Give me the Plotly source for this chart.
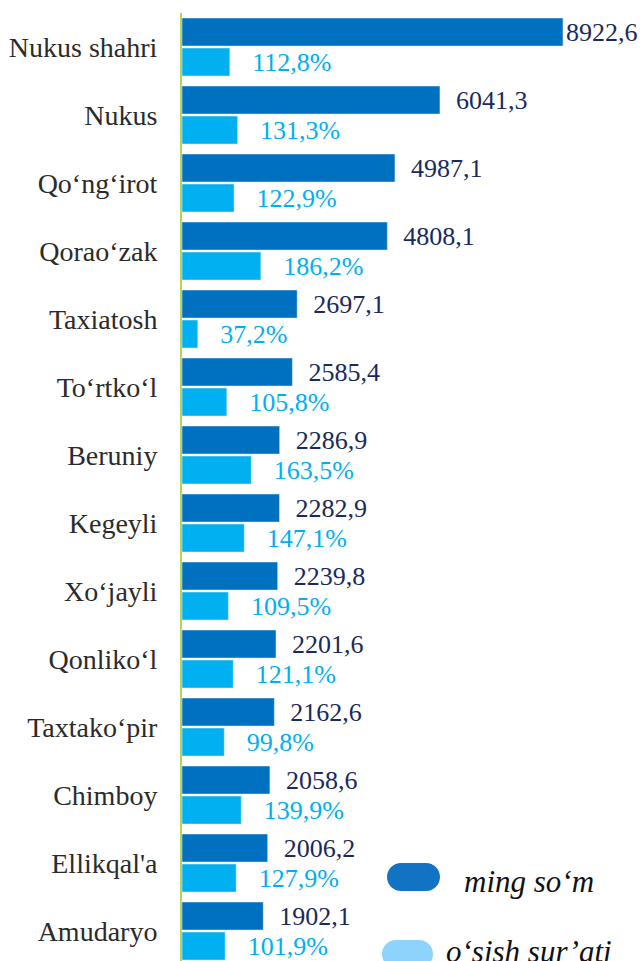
import plotly.graph_objects as go

categories = ["Nukus shahri", "Nukus", "Qo‘ng‘irot", "Qorao‘zak", "Taxiatosh", "To‘rtko‘l",
              "Beruniy", "Kegeyli", "Xo‘jayli", "Qonliko‘l", "Taxtako‘pir", "Chimboy",
              "Ellikqal'a", "Amudaryo"]
values = [8922.6, 6041.3, 4987.1, 4808.1, 2697.1, 2585.4, 2286.9, 2282.9, 2239.8,
          2201.6, 2162.6, 2058.6, 2006.2, 1902.1]
growth = [112.8, 131.3, 122.9, 186.2, 37.2, 105.8, 163.5, 147.1, 109.5, 121.1, 99.8,
          139.9, 127.9, 101.9]
legend_names = ["ming so‘m", "o‘sish sur’ati"]

W, H = 644, 961
L, T = 182, 13
PW, PH = W - L, H - T


def fmt(v):
    return f"{v:.1f}".replace(".", ",")


val_text = [("" if v > 8000 else "  ") + fmt(v) for v in values]
gr_text = ["   " + fmt(g) + "%" for g in growth]

FONT = "Liberation Serif"
DARK = "#0070c0"
LIGHT = "#00b0f0"

fig = go.Figure()
fig.add_trace(go.Bar(
    y=categories, x=values, orientation="h", name=legend_names[0],
    marker=dict(color=DARK), width=0.412, offset=-0.426,
    text=val_text, textposition="outside", cliponaxis=False, constraintext="none",
    textfont=dict(family=FONT, size=26, color="#1a2a5c"),
    xaxis="x", yaxis="y", showlegend=False,
))
fig.add_trace(go.Bar(
    y=categories, x=growth, orientation="h", name=legend_names[1],
    marker=dict(color=LIGHT), width=0.412, offset=0.015,
    text=gr_text, textposition="outside", cliponaxis=False, constraintext="none",
    textfont=dict(family=FONT, size=26, color=LIGHT),
    xaxis="x2", yaxis="y", showlegend=False,
))


def px(xp):
    return (xp - L) / PW


def py(yp):
    return (H - yp) / PH


def pill(x0, x1, y0, y1, color):
    r = (y1 - y0) / 2
    k = 0.5523 * r
    pts = [
        ("M", [(x0 + r, y0)]),
        ("L", [(x1 - r, y0)]),
        ("C", [(x1 - r + k, y0), (x1, y0 + r - k), (x1, y0 + r)]),
        ("C", [(x1, y0 + r + k), (x1 - r + k, y1), (x1 - r, y1)]),
        ("L", [(x0 + r, y1)]),
        ("C", [(x0 + r - k, y1), (x0, y0 + r + k), (x0, y0 + r)]),
        ("C", [(x0, y0 + r - k), (x0 + r - k, y0), (x0 + r, y0)]),
    ]
    path = ""
    for cmd, ps in pts:
        path += cmd + " " + " ".join(f"{px(a):.5f},{py(b):.5f}" for a, b in ps) + " "
    path += "Z"
    return dict(type="path", xref="paper", yref="paper", path=path,
                fillcolor=color, line=dict(width=0), layer="above")


shapes = [
    pill(387, 440, 863, 891, "#1273c4"),
    pill(382, 433, 940, 968, "#8dd3fb"),
]
annotations = [
    dict(x=px(462), y=py(881), xref="paper", yref="paper", text=legend_names[0],
         showarrow=False, xanchor="left", yanchor="middle",
         font=dict(family=FONT, size=31, color="#111111", style="italic")),
    dict(x=px(444), y=py(951), xref="paper", yref="paper", text=legend_names[1],
         showarrow=False, xanchor="left", yanchor="middle",
         font=dict(family=FONT, size=31, color="#111111", style="italic")),
]

fig.update_layout(
    width=W, height=H,
    margin=dict(l=L, r=0, t=T, b=0, pad=0),
    paper_bgcolor="white", plot_bgcolor="white",
    barmode="overlay",
    xaxis=dict(range=[0, 10820], visible=False, fixedrange=True),
    xaxis2=dict(range=[0, 1091], visible=False, overlaying="x", fixedrange=True),
    yaxis=dict(
        range=[13.441, -0.5], showline=True, linecolor="#b5d55c", linewidth=2,
        showgrid=False, zeroline=False, ticks="", ticklabelstandoff=17,
        tickfont=dict(family=FONT, size=28, color="#2b2b2b"),
    ),
    shapes=shapes,
    annotations=annotations,
    font=dict(family=FONT),
)

fig.write_html("out.html", config={"displayModeBar": False},
               post_script="document.body.style.margin='0px';document.body.style.overflow='hidden';")
